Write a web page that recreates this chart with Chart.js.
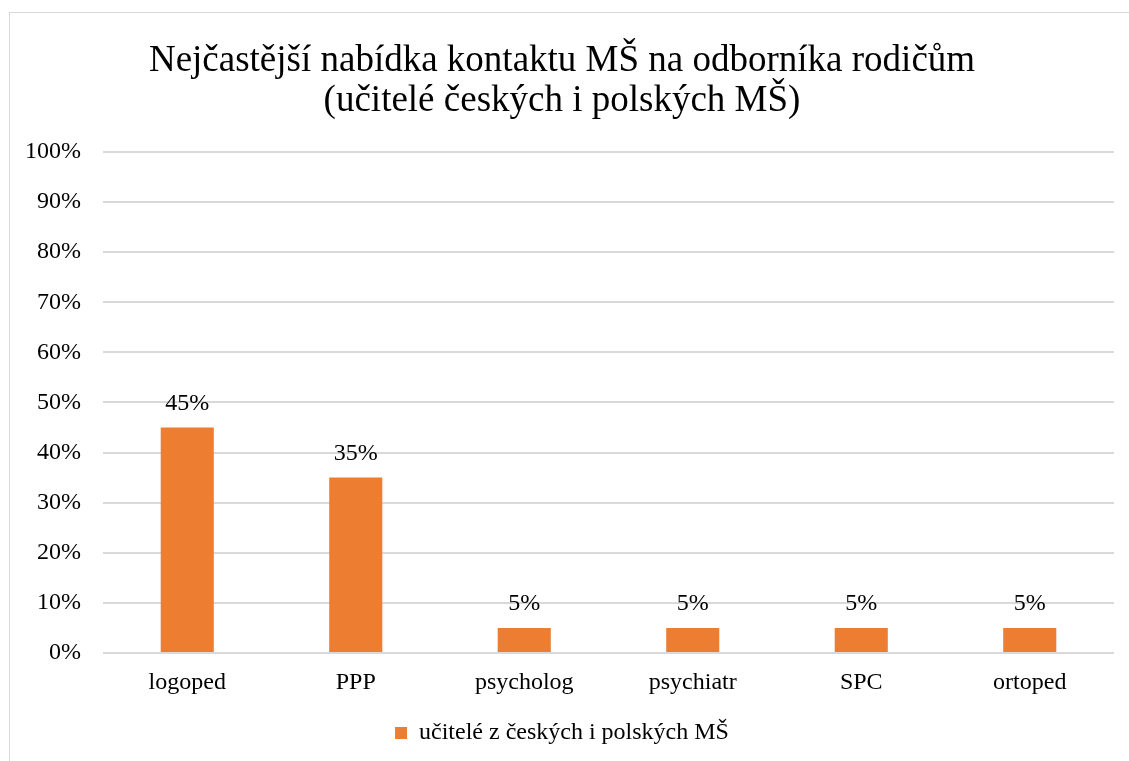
<!DOCTYPE html>
<html>
<head>
<meta charset="utf-8">
<script src="https://cdn.jsdelivr.net/npm/chart.js@4"></script>
<style>
  html, body { margin: 0; padding: 0; background: #fff; overflow: hidden; }
  #frame {
    position: absolute; left: 9px; top: 12px;
    width: 1136px; height: 749px;
    border-left: 1px solid #d9d9d9; border-top: 1px solid #d9d9d9;
  }
  #chart { display: block; }
</style>
</head>
<body>
<div id="frame"><canvas id="chart" width="1136" height="749"></canvas></div>
<script>
  var categories = ["logoped", "PPP", "psycholog", "psychiatr", "SPC", "ortoped"];
  var shares = [0.45, 0.35, 0.05, 0.05, 0.05, 0.05];
  var seriesName = "učitelé z českých i polských MŠ";
  var titleLines = ["Nejčastější nabídka kontaktu MŠ na odborníka rodičům", "(učitelé českých i polských MŠ)"];

  var ORANGE = "#ed7d31";
  var GRID = "#d9d9d9";
  var TEXT = "#000000";
  var FONT = "'Liberation Serif', 'Times New Roman', serif";

  function pct(v) { return Math.round(v * 100) + "%"; }

  // draws the value above each bar, positioned from the bar elements
  var valueLabels = {
    id: "valueLabels",
    afterDatasetsDraw: function (chart) {
      var ctx = chart.ctx;
      ctx.save();
      ctx.font = "24px " + FONT;
      ctx.fillStyle = TEXT;
      ctx.textAlign = "center";
      ctx.textBaseline = "middle";
      chart.data.datasets.forEach(function (ds, i) {
        chart.getDatasetMeta(i).data.forEach(function (bar, j) {
          ctx.fillText(pct(ds.data[j]), bar.x, bar.y - 24);
        });
      });
      ctx.restore();
    }
  };

  new Chart(document.getElementById("chart"), {
    type: "bar",
    data: {
      labels: categories,
      datasets: [{
        label: seriesName,
        data: shares,
        backgroundColor: ORANGE,
        barPercentage: 0.315,
        categoryPercentage: 1
      }]
    },
    options: {
      responsive: false,
      animation: false,
      devicePixelRatio: 1,
      layout: { padding: { left: 0, right: 32, top: 0, bottom: 7 } },
      plugins: {
        title: {
          display: true,
          text: titleLines,
          color: TEXT,
          font: { family: FONT, size: 37, weight: "normal", lineHeight: 1.08 },
          padding: { top: 28, bottom: 31 }
        },
        legend: {
          position: "bottom",
          labels: {
            color: TEXT,
            font: { family: FONT, size: 24 },
            boxWidth: 12, boxHeight: 12, padding: 6
          }
        },
        tooltip: { enabled: false }
      },
      scales: {
        x: {
          afterFit: function (scale) { scale.height = 62; },
          grid: { display: false, drawTicks: false, tickLength: 0 },
          border: { display: false },
          ticks: { color: TEXT, font: { family: FONT, size: 24 }, padding: 15 }
        },
        y: {
          min: 0, max: 1,
          afterFit: function (scale) { scale.width = 93; },
          grid: { color: GRID, lineWidth: 2, tickLength: 0, drawTicks: false },
          border: { display: false },
          ticks: { stepSize: 0.1, color: TEXT, font: { family: FONT, size: 24 }, padding: 22, callback: function (v) { return pct(v); } }
        }
      }
    },
    plugins: [valueLabels]
  });
</script>
</body>
</html>
